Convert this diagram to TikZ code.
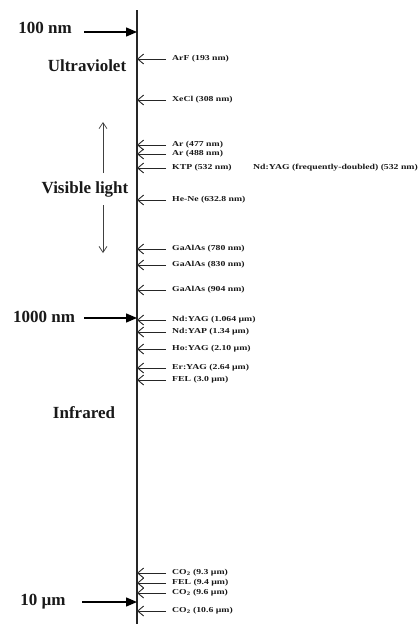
\documentclass[tikz,border=0pt]{standalone}
\usepackage{fontspec}
\setmainfont{Liberation Serif}
\newfontfamily\bigfont{Liberation Serif Bold}
\newfontfamily\smallfont[FakeStretch=1.28]{Liberation Serif Bold}
\usetikzlibrary{arrows.meta}
\tikzset{
  axisline/.style={line width=1.8pt, black!85},
  bigarrow/.style={line width=1.4pt, black, -{Triangle[length=11pt,width=9pt]}},
  laserarrow/.style={line width=0.9pt, black!85, -{Straight Barb[length=6pt,width=10pt,line width=0.9pt]}},
  visarrow/.style={line width=0.7pt, black!75, -{Straight Barb[length=6pt,width=8pt]}},
  lbl/.style={anchor=west, inner sep=0pt, text=black!90, font=\smallfont\fontsize{7.6}{8}\selectfont},
  bandlbl/.style={inner sep=0pt, text=black!90, font=\bigfont\fontsize{17}{18}\selectfont},
}
\begin{document}
\begin{tikzpicture}[x=1pt,y=-1pt]
\useasboundingbox (0,0) rectangle (418,624);
% axis
\coordinate (axtop) at (137,10);
\coordinate (axbot) at (137,624);
\draw[axisline] (axtop) -- (axbot);

% big scale labels
\node[bandlbl] (l100) at (45,28) {100 nm};
\coordinate (a100) at (84,32);
\draw[bigarrow] (a100) -- (a100 -| axtop);
\node[bandlbl] (l1000) at (44,317) {1000 nm};
\coordinate (a1000) at (84,318);
\draw[bigarrow] (a1000) -- (a1000 -| axtop);
\node[bandlbl] (l10) at (43,602) {10 \textmu m};
\coordinate (a10) at (82,602);
\draw[bigarrow] (a10) -- (a10 -| axtop);

% band names
\node[bandlbl] (uv) at (87,66) {Ultraviolet};
\node[bandlbl] (vis) at (85,189) {Visible light};
\node[bandlbl] (ir) at (84,413) {Infrared};
\coordinate (uptail) at (103,173);
\coordinate (uptip) at (103,122);
\coordinate (dntail) at (103,205);
\coordinate (dntip) at (103,253);
\draw[visarrow] (uptail) -- (uptip);
\draw[visarrow] (dntail) -- (dntip);

% lasers
\foreach \nm/\y/\txt in {
  arf/59/{ArF (193 nm)},
  xecl/100/{XeCl (308 nm)},
  ara/145/{Ar (477 nm)},
  arb/154/{Ar (488 nm)},
  ktp/168/{KTP (532 nm)},
  hene/200/{He-Ne (632.8 nm)},
  gaa/249/{GaAlAs (780 nm)},
  gab/265/{GaAlAs (830 nm)},
  gac/290/{GaAlAs (904 nm)},
  ndyag/320/{Nd:YAG (1.064 \textmu m)},
  ndyap/332/{Nd:YAP (1.34 \textmu m)},
  hoyag/349/{Ho:YAG (2.10 \textmu m)},
  eryag/368/{Er:YAG (2.64 \textmu m)},
  fela/380/{FEL (3.0 \textmu m)},
  coa/573/{CO\textsubscript{2} (9.3 \textmu m)},
  felb/583/{FEL (9.4 \textmu m)},
  cob/593/{CO\textsubscript{2} (9.6 \textmu m)},
  coc/611/{CO\textsubscript{2} (10.6 \textmu m)}}
{
  \node[lbl] (\nm) at (172,\y) {\txt};
  \draw[laserarrow] ([xshift=-6pt]\nm.west) -- (\nm.west -| axtop);
}
\node[lbl] (ndyagd) at (253,168) {Nd:YAG (frequently-doubled) (532 nm)};
\end{tikzpicture}
\end{document}
